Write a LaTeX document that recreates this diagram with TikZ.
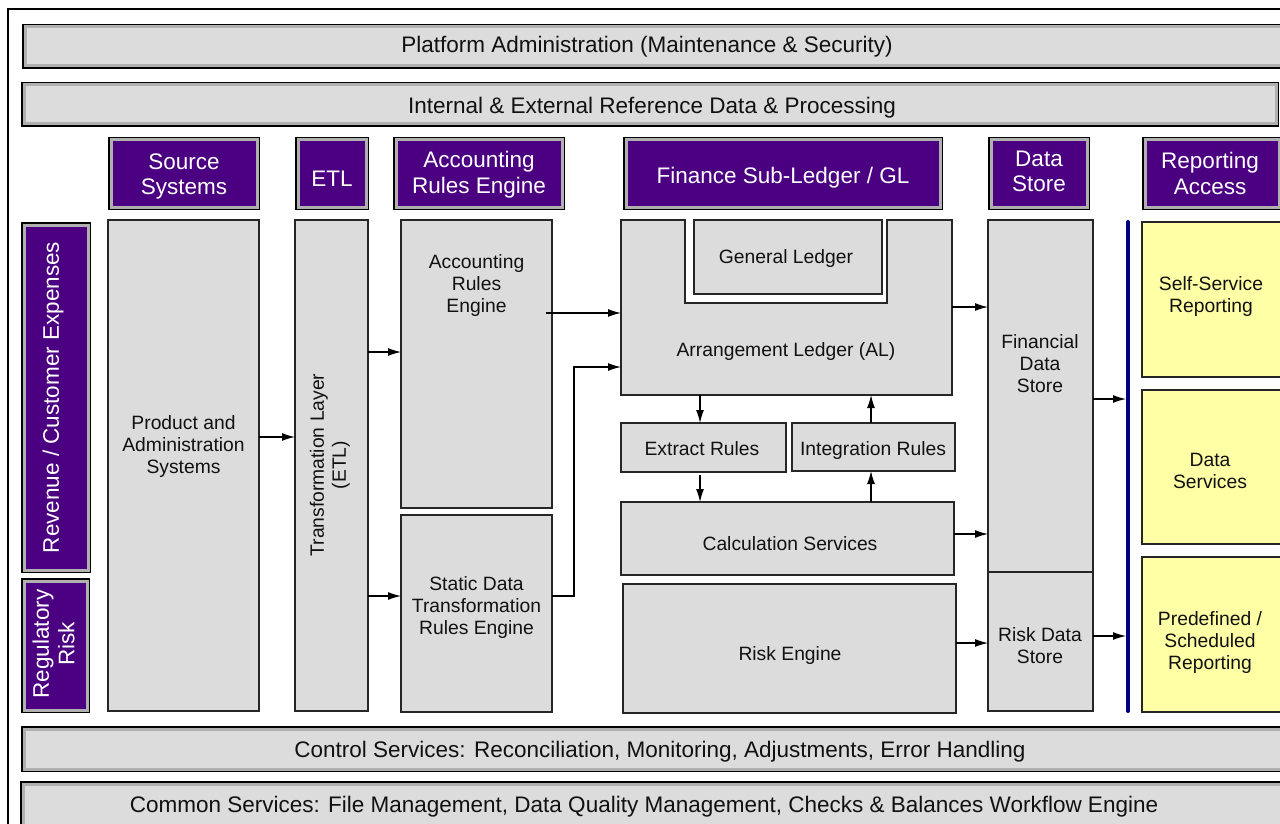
\documentclass[tikz,border=0pt]{standalone}
\usepackage{fontspec}
\setmainfont{Liberation Sans}
\usetikzlibrary{arrows.meta}
\definecolor{boxgray}{HTML}{DCDCDC}
\definecolor{bandgray}{HTML}{B0B0B0}
\definecolor{hdrpurple}{HTML}{4B0082}
\definecolor{repyellow}{HTML}{FFFFA6}
\definecolor{navyline}{HTML}{000080}
\definecolor{ink}{HTML}{111111}
\begin{document}
\begin{tikzpicture}[x=1pt,y=-1pt,
  framed/.style={draw=bandgray, line width=3pt, preaction={draw=black, line width=6pt}, inner sep=0pt, outer sep=0pt},
  bar/.style={framed, fill=boxgray},
  hdr/.style={framed, fill=hdrpurple},
  bigtext/.style={text=ink, font=\fontsize{22.5}{25.5}\selectfont, align=center, inner sep=0pt},
  hdrtext/.style={text=white, font=\fontsize{22.5}{25.5}\selectfont, align=center, inner sep=0pt},
  gbox/.style={draw=black!85, line width=1.3pt, fill=boxgray, inner sep=0pt, outer sep=0pt},
  ybox/.style={gbox, fill=repyellow},
  boxtext/.style={text=ink, font=\fontsize{19.3}{22}\selectfont, align=center, inner sep=0pt},
  arr/.style={draw=black, line width=1.2pt, -{Latex[length=13pt,width=8pt]}},
]
\useasboundingbox (0,0) rectangle (1280,824);
\fill[white] (0,0) rectangle (1280,824);
% outer frame
\draw[line width=1.2pt] (8,830) -- (8,9) -- (1290,9);

% horizontal bars
\node[bar, minimum width=1267pt, minimum height=39pt] (platform) at (658.5,46.5) {};
\node[bigtext] (platformtext) at (647,46.5) {Platform Administration (Maintenance \& Security)};
\node[bar, minimum width=1252pt, minimum height=39pt] (refdata) at (650,104.5) {};
\node[bigtext] (refdatatext) at (652,107.5) {Internal \& External Reference Data \& Processing};
\node[bar, minimum width=1267pt, minimum height=40pt] (control) at (657.5,749) {};
\node[bigtext] (controltext) at (660,752) {Control Services: Reconciliation, Monitoring, Adjustments, Error Handling};
\node[bar, minimum width=1269pt, minimum height=48pt] (common) at (657.5,808) {};
\node[bigtext] (commontext) at (644,807) {Common Services: File Management, Data Quality Management, Checks \& Balances Workflow Engine};

% column headers
\node[hdr, minimum width=146pt, minimum height=67pt] (src) at (184,173.5) {};
\node[hdrtext] (srctext) at (184,176.5) {Source\\Systems};
\node[hdr, minimum width=68pt, minimum height=67pt] (etl) at (332,173.5) {};
\node[hdrtext] (etltext) at (332,178.5) {ETL};
\node[hdr, minimum width=166pt, minimum height=67pt] (are) at (479,173.5) {};
\node[hdrtext] (aretext) at (479,174.5) {Accounting\\Rules Engine};
\node[hdr, minimum width=314pt, minimum height=67pt] (fsl) at (783,173.5) {};
\node[hdrtext] (fsltext) at (783,177.5) {Finance Sub-Ledger / GL};
\node[hdr, minimum width=96pt, minimum height=67pt] (ds) at (1039,173.5) {};
\node[hdrtext] (dstext) at (1039,171.5) {Data\\Store};
\node[hdr, minimum width=134pt, minimum height=67pt] (rep) at (1212,173.5) {};
\node[hdrtext] (reptext) at (1210,173.5) {Reporting\\Access};

% row headers
\node[hdr, minimum width=64pt, minimum height=345pt] (rev) at (56,397.5) {};
\node[hdrtext, rotate=90] (revtext) at (53,397.5) {Revenue / Customer Expenses};
\node[hdr, minimum width=63pt, minimum height=129pt] (reg) at (55.5,645.5) {};
\node[hdrtext, rotate=90] (regtext) at (53.5,644) {Regulatory\\Risk};

% source and ETL
\node[gbox, minimum width=151pt, minimum height=491pt] (pas) at (183.5,465.5) {};
\node[boxtext] (pastext) at (183.5,446.5) {Product and\\Administration\\Systems};
\node[gbox, minimum width=73pt, minimum height=491pt] (tl) at (331.5,465.5) {};
\node[boxtext, rotate=90] (tltext) at (330,465) {Transformation Layer\\(ETL)};

% accounting rules engine column
\node[gbox, minimum width=151pt, minimum height=288pt] (areb) at (476.5,364) {};
\node[boxtext] (arebtext) at (476.5,286) {Accounting\\Rules\\Engine};
\node[gbox, minimum width=151pt, minimum height=197pt] (sdt) at (476.5,613.5) {};
\node[boxtext] (sdttext) at (476.5,608) {Static Data\\Transformation\\Rules Engine};

% finance sub-ledger column
\node[inner sep=0pt, outer sep=0pt, minimum width=331pt, minimum height=175pt] (al) at (786.5,307.5) {};
\draw[draw=black!85, line width=1.3pt, fill=boxgray]
  (al.north west) -- (685,220) -- (685,303) -- (887,303) -- (887,220) -- (al.north east)
  -- (al.south east) -- (al.south west) -- cycle;
\node[boxtext] (altext) at (786,352) {Arrangement Ledger (AL)};
\node[gbox, minimum width=188pt, minimum height=74pt] (gl) at (788,257) {};
\node[boxtext] (gltext) at (786,259) {General Ledger};
\node[gbox, minimum width=165pt, minimum height=49pt] (ext) at (703.5,447.5) {};
\node[boxtext] (exttext) at (702,448.5) {Extract Rules};
\node[gbox, minimum width=163pt, minimum height=48pt] (int) at (873.5,447) {};
\node[boxtext] (inttext) at (873,451) {Integration Rules};
\node[gbox, minimum width=333pt, minimum height=73pt] (calc) at (787.5,538.5) {};
\node[boxtext] (calctext) at (790,543.5) {Calculation Services};
\node[gbox, minimum width=333pt, minimum height=129pt] (risk) at (789.5,648.5) {};
\node[boxtext] (risktext) at (790,656) {Risk Engine};

% data stores
\node[gbox, minimum width=105pt, minimum height=352pt] (fds) at (1040.5,396) {};
\node[boxtext] (fdstext) at (1040,364) {Financial\\Data\\Store};
\node[gbox, minimum width=105pt, minimum height=139pt] (rds) at (1040.5,641.5) {};
\node[boxtext] (rdstext) at (1040,646) {Risk Data\\Store};

% navy bus line
\coordinate (navtop) at (1128,222);
\coordinate (navbot) at (1128,711);
\draw[navyline, line width=4pt, line cap=round] (navtop) -- (navbot);
\coordinate (navin) at (1126,0);

% reporting boxes
\node[ybox, minimum width=139pt, minimum height=155pt] (ssr) at (1211.5,299.5) {};
\node[boxtext] (ssrtext) at (1211,296.5) {Self-Service\\Reporting};
\node[ybox, minimum width=139pt, minimum height=154pt] (dsv) at (1211.5,467) {};
\node[boxtext] (dsvtext) at (1210,470.5) {Data\\Services};
\node[ybox, minimum width=139pt, minimum height=155pt] (pre) at (1211.5,634.5) {};
\node[boxtext] (pretext) at (1210,642.5) {Predefined /\\Scheduled\\Reporting};

% connectors
\draw[arr] (pas.east |- 0,437) -- (tl.west |- 0,437);
\draw[arr] (tl.east |- 0,352) -- (areb.west |- 0,352);
\draw[arr] (tl.east |- 0,596) -- (sdt.west |- 0,596);
\draw[arr] ([xshift=-6pt]areb.east |- 0,313) -- (al.west |- 0,313);
\coordinate (bend) at (574,367);
\draw[arr] (sdt.east |- 0,596) -| (bend) -- (al.west |- bend);
\draw[arr] (al.south -| 700,0) -- (ext.north -| 700,0);
\draw[arr] ([yshift=-3pt]ext.south -| 700,0) -- (calc.north -| 700,0);
\draw[arr] (calc.north -| 871,0) -- (int.south -| 871,0);
\draw[arr] (int.north -| 871,0) -- (al.south -| 871,0);
\draw[arr] (al.east |- 0,307) -- (fds.west |- 0,307);
\draw[arr] (calc.east |- 0,534) -- (fds.west |- 0,534);
\draw[arr] (risk.east |- 0,643) -- (rds.west |- 0,643);
\draw[arr] (fds.east |- 0,399) -- (navin |- 0,399);
\draw[arr] (rds.east |- 0,636) -- (navin |- 0,636);
\end{tikzpicture}
\end{document}
